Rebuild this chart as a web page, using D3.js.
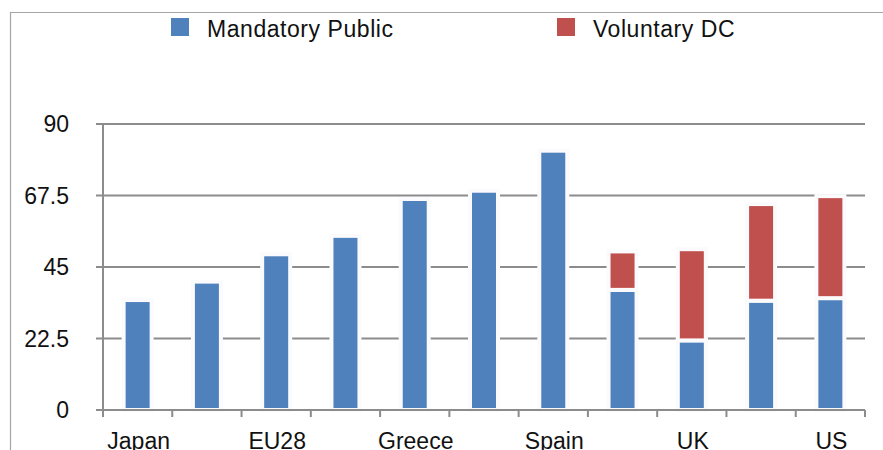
<!DOCTYPE html>
<html>
<head>
<meta charset="utf-8">
<script src="https://cdn.jsdelivr.net/npm/d3@7"></script>
<style>
  html, body { margin: 0; padding: 0; background: #ffffff; }
  svg { display: block; }
  text { font-family: "Liberation Sans", Arial, Helvetica, sans-serif; fill: #111; }
</style>
</head>
<body>
<svg id="chart" width="883" height="450"></svg>
<script>
// Replacement rates by country: mandatory public pension and voluntary DC top-up
const categories = ["Japan", "Germany", "EU28", "France", "Greece", "Italy", "Spain", "Canada", "UK", "Ireland", "US"];
const mandatoryPublic = [34.6, 40.4, 49.0, 54.8, 66.4, 69.0, 81.6, 37.8, 21.9, 34.4, 35.2];
const voluntaryDC     = [0, 0, 0, 0, 0, 0, 0, 12.1, 28.7, 30.4, 32.1];
const yTicks = [0, 22.5, 45, 67.5, 90];
const seriesNames = ["Mandatory Public", "Voluntary DC"];
const seriesColors = ["#4F81BD", "#C0504D"];

const svg = d3.select("#chart");
const plotLeft = 103, plotRight = 865, plotBottom = 410, plotTop = 124;

const x = d3.scaleBand().domain(categories).range([plotLeft, plotRight]).padding(0);
const y = d3.scaleLinear().domain([0, 90]).range([plotBottom, plotTop]);

// outer frame (left and top edges)
svg.append("line").attr("x1", 10.5).attr("x2", 10.5).attr("y1", 12).attr("y2", 450)
  .attr("stroke", "#a6a6a6").attr("stroke-width", 1.2);
svg.append("line").attr("x1", 10).attr("x2", 883).attr("y1", 12.5).attr("y2", 12.5)
  .attr("stroke", "#a6a6a6").attr("stroke-width", 1.2);

// horizontal gridlines with short ticks left of the axis
svg.append("g").selectAll("line").data(yTicks.filter(t => t > 0)).join("line")
  .attr("x1", plotLeft - 7).attr("x2", plotRight)
  .attr("y1", d => y(d)).attr("y2", d => y(d))
  .attr("stroke", "#8c8c8c").attr("stroke-width", 2);

// stacked bars
const stack = d3.stack().keys([0, 1])
  .value((i, k) => k === 0 ? mandatoryPublic[i] : voluntaryDC[i]);
const layers = stack(d3.range(categories.length));
const barW = 28;

const gBars = svg.append("g");
layers.forEach((layer, k) => {
  gBars.append("g").selectAll("rect")
    .data(layer.map((d, i) => ({ d, i })).filter(o => o.d[1] - o.d[0] > 0))
    .join("rect")
    .attr("x", o => x(categories[o.i]) + x.bandwidth() / 2 - barW / 2)
    .attr("width", barW)
    .attr("y", o => y(o.d[1]))
    .attr("height", o => y(o.d[0]) - y(o.d[1]))
    .attr("fill", seriesColors[k])
    .attr("stroke", "#fbfbfd")
    .attr("stroke-width", 4);
});

// x axis baseline and category boundary ticks
svg.append("line").attr("x1", plotLeft - 7).attr("x2", plotRight).attr("y1", plotBottom).attr("y2", plotBottom)
  .attr("stroke", "#8c8c8c").attr("stroke-width", 2);
const boundaries = categories.map(c => x(c)).concat([plotRight]);
svg.append("g").selectAll("line").data(boundaries).join("line")
  .attr("x1", d => d).attr("x2", d => d)
  .attr("y1", plotBottom).attr("y2", plotBottom + 7)
  .attr("stroke", "#8c8c8c").attr("stroke-width", 2);

// y axis line
svg.append("line").attr("x1", plotLeft).attr("x2", plotLeft).attr("y1", plotTop - 1).attr("y2", plotBottom + 7)
  .attr("stroke", "#8c8c8c").attr("stroke-width", 2);

// y tick labels
svg.append("g").selectAll("text").data(yTicks).join("text")
  .attr("x", 69).attr("y", d => y(d) + 8)
  .attr("text-anchor", "end")
  .style("font-size", "23px")
  .text(d => d);

// x labels: every other category
svg.append("g").selectAll("text").data(categories.filter((c, i) => i % 2 === 0)).join("text")
  .attr("x", d => x(d) + x.bandwidth() / 2 + 1)
  .attr("y", 449)
  .attr("text-anchor", "middle")
  .style("font-size", "23px")
  .text(d => d);

// legend
const legendX = [171, 557];
const lg = svg.append("g").selectAll("g").data(seriesNames).join("g")
  .attr("transform", (d, i) => `translate(${legendX[i]},18)`);
lg.append("rect").attr("width", 18).attr("height", 18)
  .attr("fill", (d, i) => seriesColors[i]);
lg.append("text").attr("x", 36).attr("y", 18.5)
  .style("font-size", "23px")
  .style("letter-spacing", "0.55px")
  .text(d => d);
</script>
</body>
</html>
